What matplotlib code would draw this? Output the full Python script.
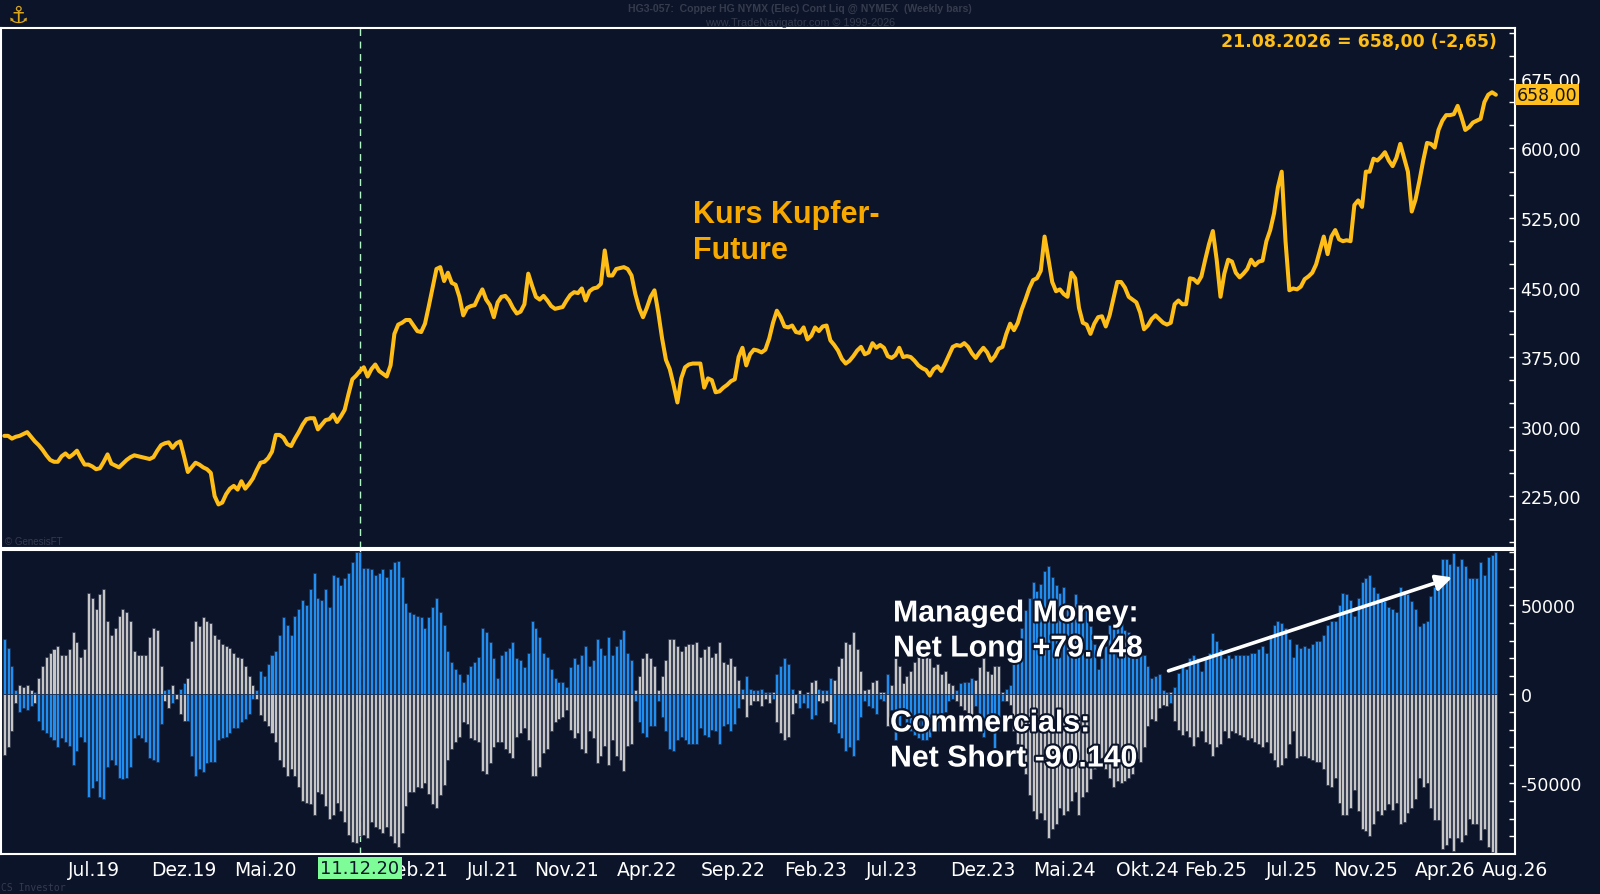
import numpy as np
import pandas as pd
import matplotlib
matplotlib.use("Agg")
import matplotlib.pyplot as plt
import matplotlib.transforms as mtransforms
from matplotlib import patheffects as pe
from matplotlib.ticker import FixedLocator, MultipleLocator, FuncFormatter

plt.rcParams['font.family'] = ['Liberation Sans', 'DejaVu Sans']

# --- weekly copper future close (HG, cents/lb), Mar 2019 .. 21.08.2026 -------
price = [
    290, 290, 287, 289, 290, 292, 294, 289, 284, 280,
    275, 269, 264, 262, 262, 268, 271, 267, 270, 274,
    266, 259, 259, 257, 254, 255, 262, 270, 260, 258,
    256, 260, 264, 267, 269, 268, 267, 266, 265, 267, 274,
    280, 282, 283, 277, 282, 284, 268, 251, 256, 261,
    259, 256, 254, 250, 225, 216, 218, 227, 233, 236,
    232, 241, 233, 238, 244, 253, 261, 262, 266, 273,
    291, 291, 288, 281, 279, 287, 294, 302, 308, 309,
    309, 297, 302, 307, 308, 313, 305, 311, 318, 335,
    351, 355, 360, 364, 354, 362, 367, 360, 357, 354,
    366, 400, 410, 412, 415, 415, 409, 403, 402, 411,
    430, 450, 470, 472, 457, 466, 455, 453, 440, 420,
    428, 430, 431, 440, 448, 437, 431, 418, 434, 440,
    441, 436, 428, 422, 424, 432, 465, 452, 440, 437, 441,
    436, 430, 427, 428, 429, 436, 442, 445, 444, 449,
    436, 446, 449, 450, 454, 490, 463, 463, 470, 471,
    472, 470, 463, 443, 428, 418, 428, 440, 447, 423,
    395, 372, 362, 345, 326, 352, 364, 367, 368, 368,
    368, 342, 352, 350, 337, 338, 342, 345, 349, 351,
    375, 385, 366, 378, 383, 382, 380, 383, 395, 412,
    425, 418, 408, 407, 409, 402, 401, 407, 394, 398,
    407, 403, 408, 409, 393, 388, 382, 373, 368, 371,
    376, 382, 386, 378, 380, 390, 385, 388, 385, 376,
    374, 377, 385, 375, 376, 375, 371, 366, 363, 361, 355,
    362, 365, 360, 368, 377, 386, 388, 387, 390, 386,
    379, 374, 380, 385, 380, 371, 376, 384, 386, 400,
    411, 404, 412, 426, 437, 449, 458, 460, 468, 505,
    481, 456, 446, 448, 443, 440, 466, 460, 428, 412,
    410, 400, 411, 418, 419, 408, 420, 438, 456, 456,
    450, 440, 437, 434, 423, 405, 409, 416, 420, 416,
    412, 410, 412, 432, 436, 432, 432, 460, 459, 455,
    462, 480, 497, 511, 480, 440, 465, 480, 478, 466,
    461, 465, 470, 480, 474, 478, 479, 500, 512, 530, 558,
    575, 500, 447, 449, 448, 451, 459, 462, 466, 475,
    490, 505, 486, 505, 512, 502, 500, 501, 500, 539,
    544, 537, 575, 575, 589, 587, 591, 596, 587, 581,
    590, 605, 590, 575, 532, 545, 565, 587, 606, 605,
    601, 620, 630, 636, 636, 637, 646, 634, 620, 623,
    628, 630, 632, 650, 658, 660.65, 658,
]

# --- COT net positions, thousand contracts -----------------------------------
managed_money_k = [
    31, 26, 16, 2, -10, -8, -9, -7, 1, -15,
    -20, -22, -24, -26, -30, -25, -27, -29, -40, -32,
    -24, -27, -58, -53, -49, -58, -59, -41, -37, -40,
    -47, -48, -47, -41, -25, -23, -25, -27, -36, -37, -38,
    -17, 2, 3, -5, 0, 3, 6, -15, -35, -46,
    -42, -44, -39, -38, -38, -26, -25, -24, -22, -19,
    -19, -16, -14, -11, -3, 2, 13, 10, 17, 22,
    24, 33, 43, 39, 33, 44, 48, 53, 50, 59,
    68, 54, 53, 59, 49, 67, 66, 61, 65, 68,
    74, 80, 80, 71, 71, 70, 67, 68, 70, 66,
    70, 74, 75, 66, 51, 46, 45, 44, 43, 37,
    43, 49, 54, 46, 39, 24, 18, 14, 11, 7,
    11, 16, 18, 21, 37, 35, 29, 20, 9, 22,
    24, 26, 29, 20, 19, 15, 23, 41, 37, 32, 23,
    21, 14, 9, 7, 7, 4, 15, 20, 17, 22,
    27, 16, 19, 31, 26, 22, 32, 22, 27, 31,
    36, 23, 19, -4, -16, -22, -24, -18, -18, -4,
    -13, -21, -31, -32, -26, -24, -26, -28, -28, -28,
    -19, -23, -24, -20, -21, -28, -18, -17, -21, -17,
    -8, 3, 10, 3, 2, 2, 3, 1, 1, -3,
    11, 16, 20, 17, 3, 0, -8, -5, -8, -14,
    -12, 3, 2, 2, 9, -17, -22, -25, -32, -30,
    -35, -26, -13, -4, -7, -8, -11, -3, -4, 11,
    -9, -26, -20, -8, -18, -21, -23, -25, -26, -26, -24,
    -20, -21, -14, -10, -4, -3, 2, 6, 7, 7,
    9, -7, -18, -24, -17, -14, -31, -21, -4, 3,
    5, 23, 28, 37, 47, 54, 63, 58, 62, 69,
    72, 66, 61, 57, 60, 51, 46, 56, 46, 51,
    47, 38, 28, 14, 20, 27, 39, 38, 38, 43,
    36, 35, 28, 20, 23, 22, 16, 9, 10, 11,
    2, 1, -5, 4, 12, 16, 14, 20, 22, 20,
    13, 21, 23, 34, 30, 25, 20, 22, 20, 22,
    22, 22, 22, 23, 23, 25, 27, 23, 33, 39, 41,
    40, 37, 31, 21, 28, 26, 27, 26, 28, 30,
    30, 33, 39, 41, 41, 50, 57, 56, 53, 44,
    54, 63, 65, 67, 60, 57, 53, 52, 49, 48,
    46, 60, 58, 56, 52, 48, 38, 40, 41, 55,
    60, 62, 76, 76, 73, 79, 72, 76, 72, 65,
    65, 65, 74, 67, 77, 78, 79.748,
]
commercials_k = [
    -34, -30, -21, -5, 5, 4, 5, 2, -5, 9,
    16, 21, 23, 25, 27, 22, 22, 25, 35, 29,
    21, 25, 57, 54, 48, 56, 59, 41, 33, 37,
    44, 48, 46, 41, 24, 22, 22, 22, 32, 37, 36,
    16, -4, -8, 5, -3, -11, -15, 9, 30, 41,
    38, 43, 41, 40, 33, 31, 28, 27, 26, 23,
    21, 20, 16, 10, 5, -3, -12, -15, -18, -22,
    -27, -37, -41, -46, -42, -46, -52, -60, -61, -62,
    -68, -55, -56, -63, -70, -68, -61, -66, -72, -79,
    -83, -84, -80, -79, -81, -72, -75, -76, -78, -75,
    -80, -84, -86, -78, -63, -55, -55, -52, -53, -50,
    -56, -62, -64, -57, -51, -37, -31, -27, -24, -16,
    -17, -25, -26, -27, -43, -45, -39, -30, -27, -27,
    -31, -33, -36, -24, -22, -19, -26, -46, -46, -41, -33,
    -31, -21, -16, -14, -13, -9, -20, -25, -22, -31,
    -33, -21, -25, -39, -35, -29, -40, -26, -35, -37,
    -43, -29, -28, 2, 10, 20, 23, 20, 16, 2,
    10, 19, 31, 31, 27, 24, 27, 28, 28, 29,
    21, 25, 27, 21, 23, 29, 18, 17, 20, 16,
    8, -3, -13, -6, -4, -4, -7, -3, -5, 1,
    -16, -22, -26, -24, -11, -5, 2, 0, 1, 7,
    8, -4, -5, -4, -16, 8, 16, 20, 29, 28,
    35, 25, 13, 2, 3, 7, 8, 1, 1, -18,
    5, 20, 16, 6, 10, 13, 18, 21, 22, 22, 20,
    15, 17, 11, 13, 6, 5, -4, -7, -9, -11,
    -13, 8, 15, 20, 13, 11, 16, 16, 1, -4,
    -6, -21, -28, -37, -45, -57, -66, -70, -67, -71,
    -81, -76, -73, -64, -68, -66, -60, -55, -68, -58,
    -55, -48, -42, -28, -36, -42, -47, -52, -49, -50,
    -49, -47, -45, -36, -38, -30, -18, -14, -15, -8,
    -6, -7, 1, -15, -20, -23, -21, -24, -29, -24,
    -21, -27, -28, -35, -30, -28, -21, -25, -21, -22,
    -23, -24, -26, -25, -27, -28, -30, -27, -33, -37, -41,
    -40, -36, -28, -21, -36, -35, -35, -36, -37, -38,
    -38, -42, -51, -52, -47, -61, -68, -68, -64, -54,
    -66, -76, -77, -80, -73, -66, -68, -65, -62, -65,
    -61, -73, -72, -67, -64, -59, -47, -52, -50, -64,
    -71, -71, -87, -85, -81, -88, -81, -83, -79, -70,
    -73, -73, -82, -76, -86, -89, -90.140,
]

tick_months = ['2019-07-01', '2019-12-01', '2020-05-01', '2021-02-01', '2021-07-01',
               '2021-11-01', '2022-04-01', '2022-09-01', '2023-02-01', '2023-07-01',
               '2023-12-01', '2024-05-01', '2024-10-01', '2025-02-01', '2025-07-01',
               '2025-11-01', '2026-04-01', '2026-08-01']
tick_labels = ['Jul.19', 'Dez.19', 'Mai.20', 'Feb.21', 'Jul.21', 'Nov.21', 'Apr.22',
               'Sep.22', 'Feb.23', 'Jul.23', 'Dez.23', 'Mai.24', 'Okt.24', 'Feb.25',
               'Jul.25', 'Nov.25', 'Apr.26', 'Aug.26']
CURSOR = pd.Timestamp('2020-12-11')

assert len(price) == len(managed_money_k) == len(commercials_k), \
    (len(price), len(managed_money_k), len(commercials_k))

dates = pd.date_range(end='2026-08-21', periods=len(price), freq='7D')
mm = np.array(managed_money_k) * 1000
comm = np.array(commercials_k) * 1000

BG = '#0c1429'
GOLD = '#ffbe17'
AXF = ['DejaVu Sans']          # wide Verdana-like face used on the axes
W, H = 1600, 895

fig = plt.figure(figsize=(16, 8.95), dpi=100, facecolor=BG)
ax1 = fig.add_axes([1 / W, 1 - 549 / H, 1514 / W, 520 / H])
ax2 = fig.add_axes([1 / W, 1 - 855 / H, 1514 / W, 304 / H], sharex=ax1)

for ax in (ax1, ax2):
    ax.set_facecolor(BG)
    for s in ax.spines.values():
        s.set_color('white'); s.set_linewidth(1.5)
    ax.yaxis.tick_right()
    ax.tick_params(axis='y', which='both', colors='white', direction='in',
                   length=4, width=1, labelsize=12.5, pad=4)
    ax.axvline(CURSOR, color='#b0f5c4', lw=1.0, dashes=(5, 4), zorder=1)

# price panel
ax1.plot(dates, price, color=GOLD, lw=2.9, solid_joinstyle='round',
         solid_capstyle='round', zorder=3)
ax1.set_ylim(169, 730)
ax1.yaxis.set_major_locator(FixedLocator(np.arange(225, 700, 75)))
ax1.yaxis.set_minor_locator(MultipleLocator(25))
ax1.yaxis.set_major_formatter(FuncFormatter(lambda v, p: f"{v:.2f}".replace('.', ',')))
ax1.tick_params(axis='x', bottom=False, labelbottom=False)

blend = mtransforms.blended_transform_factory(ax1.transAxes, ax1.transData)
ax1.text(1.001, price[-1], f"{price[-1]:.2f}".replace('.', ','), transform=blend,
         ha='left', va='center', fontsize=12.5, color='#141414', zorder=5, family=AXF,
         bbox=dict(boxstyle='square,pad=0.1', fc='#ffc01f', ec='none'))
ax1.text(0.988, 0.975, "21.08.2026 = 658,00 (-2,65)", transform=ax1.transAxes,
         ha='right', va='center', fontsize=12.5, fontweight='bold', color=GOLD, family=AXF)
ax1.text(692 / 1514, 1 - (233 - 29) / 520, "Kurs Kupfer-\nFuture", transform=ax1.transAxes,
         ha='left', va='center', fontsize=22, fontweight='bold', color='#f7a900',
         linespacing=1.26)

# COT panel
ax2.bar(dates, comm, width=5.5, color='#c6c6c6', edgecolor='#2a3148', linewidth=0.5, zorder=2)
ax2.bar(dates, mm, width=5.5, color='#1f8ef1', edgecolor='#1b2a4a', linewidth=0.5, zorder=2)
ax2.set_ylim(-89900, 80900)
ax2.yaxis.set_major_locator(FixedLocator([-50000, 0, 50000]))
ax2.yaxis.set_minor_locator(MultipleLocator(10000))
ax2.yaxis.set_major_formatter(FuncFormatter(lambda v, p: f"{int(v)}"))
ax2.set_xlim(dates[0] - pd.Timedelta(days=6), dates[-1] + pd.Timedelta(days=35))
ax2.set_xticks(pd.to_datetime(tick_months))
ax2.set_xticklabels(tick_labels, ha='left', family=AXF)
ax2.tick_params(axis='x', length=0, colors='white', labelsize=13.5, pad=4)
for ax in (ax1, ax2):
    for lab in ax.get_yticklabels():
        lab.set_family(AXF)
for lab in ax2.get_xticklabels():
    lab.set_x(lab.get_position()[0])
    lab.set_transform(lab.get_transform() + mtransforms.ScaledTranslation(-3 / 100, 0, fig.dpi_scale_trans))

ax2.annotate('', xy=(pd.Timestamp('2026-06-07'), 66000),
             xytext=(pd.Timestamp('2024-12-25'), 12500),
             arrowprops=dict(arrowstyle='-|>', color='white', lw=2.6, mutation_scale=24),
             zorder=6)

halo = [pe.withStroke(linewidth=3, foreground=BG)]
fig.text(893 / W, 1 - 632 / H, "Managed Money:\nNet Long +79.748", ha='left', va='center',
         fontsize=21.8, fontweight='bold', color='white', linespacing=1.32, path_effects=halo)
fig.text(890 / W, 1 - 742 / H, "Commercials:\nNet Short -90.140", ha='left', va='center',
         fontsize=21.8, fontweight='bold', color='white', linespacing=1.32, path_effects=halo)

ax2.annotate("11.12.20", xy=(CURSOR, 0), xycoords=('data', 'axes fraction'),
             xytext=(0, -10), textcoords='offset points', ha='center', va='center',
             fontsize=12.8, color='#0c1429', zorder=10, annotation_clip=False, family=AXF,
             bbox=dict(boxstyle='square,pad=0.12', fc='#7dfc98', ec='none'))

# header / watermarks
fig.text(0.5, 1 - 9 / H, "HG3-057:  Copper HG NYMX (Elec) Cont Liq @ NYMEX  (Weekly bars)",
         ha='center', va='center', fontsize=7.6, fontweight='bold', color='#363b4e')
fig.text(0.5, 1 - 23 / H, "www.TradeNavigator.com \u00a9 1999-2026",
         ha='center', va='center', fontsize=7.8, color='#363b4e')
fig.text(18 / W, 1 - 16 / H, "\u2693", ha='center', va='center', fontsize=17,
         color='#d9a61a', family=['DejaVu Sans'])
fig.text(5 / W, 1 - 542 / H, "\u00a9 GenesisFT", ha='left', va='center', fontsize=7,
         color='#363b4e')
fig.text(1 / W, 1 - 888 / H, "CS Investor", ha='left', va='center', fontsize=7,
         color='#363b4e', family=['DejaVu Sans Mono'])

fig.savefig("out.png", dpi=100, facecolor=BG)
